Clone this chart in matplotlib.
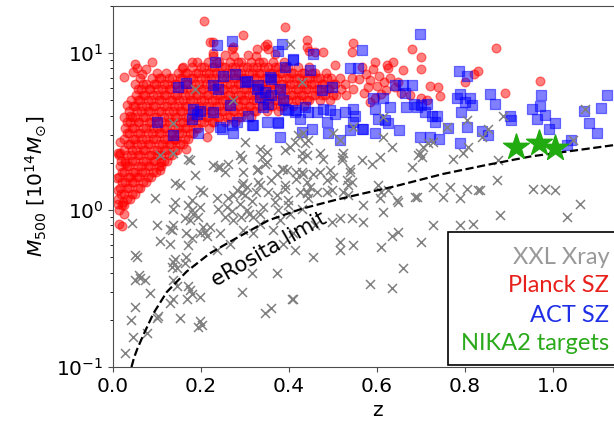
import numpy as np
import matplotlib.pyplot as plt
from matplotlib.patches import Rectangle

# Planck SZ clusters (redshift, mass in 1e14 Msun)
planck_z = [
    0.014, 0.012, 0.015, 0.013, 0.016, 0.014,
    0.026, 0.024, 0.027, 0.025, 0.028, 0.026, 0.024, 0.027, 0.025,
    0.038, 0.036, 0.039, 0.037, 0.040, 0.038, 0.036, 0.039, 0.037, 0.040,
    0.050, 0.048, 0.051, 0.049, 0.052, 0.050, 0.048, 0.051, 0.049, 0.052, 0.050,
    0.062, 0.060, 0.063, 0.061, 0.064, 0.062, 0.060, 0.063, 0.061, 0.064, 0.062,
    0.074, 0.072, 0.075, 0.073, 0.076, 0.074, 0.072, 0.075, 0.073, 0.076,
    0.086, 0.084, 0.087, 0.085, 0.088, 0.086, 0.084, 0.087, 0.085, 0.088,
    0.098, 0.096, 0.099, 0.097, 0.100, 0.098, 0.096, 0.099, 0.097, 0.100,
    0.110, 0.108, 0.111, 0.109, 0.112, 0.110, 0.108, 0.111, 0.109,
    0.122, 0.120, 0.123, 0.121, 0.124, 0.122, 0.120, 0.123, 0.121,
    0.134, 0.132, 0.135, 0.133, 0.136, 0.134, 0.132, 0.135,
    0.146, 0.144, 0.147, 0.145, 0.148, 0.146, 0.144, 0.147,
    0.158, 0.156, 0.159, 0.157, 0.160, 0.158, 0.156, 0.159,
    0.170, 0.168, 0.171, 0.169, 0.172, 0.170, 0.168,
    0.182, 0.180, 0.183, 0.181, 0.184, 0.182, 0.180,
    0.194, 0.192, 0.195, 0.193, 0.196, 0.194, 0.192,
    0.206, 0.204, 0.207, 0.205, 0.208, 0.206,
    0.218, 0.216, 0.219, 0.217, 0.220, 0.218, 0.216,
    0.230, 0.228, 0.231, 0.229, 0.232, 0.230, 0.228,
    0.242, 0.240, 0.243, 0.241, 0.244, 0.242,
    0.254, 0.252, 0.255, 0.253, 0.256, 0.254,
    0.266, 0.264, 0.267, 0.265, 0.268, 0.266,
    0.278, 0.276, 0.279, 0.277, 0.280, 0.278, 0.276,
    0.290, 0.288, 0.291, 0.289, 0.292, 0.290,
    0.302, 0.300, 0.303, 0.301, 0.304,
    0.314, 0.312, 0.315, 0.313, 0.316, 0.314,
    0.326, 0.324, 0.327, 0.325, 0.328, 0.326,
    0.338, 0.336, 0.339, 0.337, 0.340,
    0.350, 0.348, 0.351, 0.349, 0.352,
    0.362, 0.360, 0.363, 0.361, 0.364,
    0.374, 0.372, 0.375, 0.373, 0.376,
    0.386, 0.384, 0.387, 0.385, 0.388,
    0.398, 0.396, 0.399, 0.397,
    0.410, 0.408, 0.411, 0.409,
    0.422, 0.420, 0.423, 0.421,
    0.434, 0.432, 0.435, 0.433,
    0.446, 0.444, 0.447, 0.445,
    0.458, 0.456, 0.459,
    0.470, 0.468, 0.471,
    0.482, 0.480, 0.483,
    0.494, 0.492, 0.495,
    0.506, 0.504,
    0.518, 0.516,
    0.530, 0.528,
    0.545, 0.543,
    # inner part of the cloud
    0.020, 0.019, 0.021, 0.020, 0.019,
    0.032, 0.031, 0.033, 0.032, 0.031, 0.033, 0.032, 0.031,
    0.044, 0.043, 0.045, 0.044, 0.043, 0.045, 0.044, 0.043, 0.045,
    0.056, 0.055, 0.057, 0.056, 0.055, 0.057, 0.056, 0.055, 0.057, 0.056,
    0.068, 0.067, 0.069, 0.068, 0.067, 0.069, 0.068, 0.067, 0.069, 0.068,
    0.080, 0.079, 0.081, 0.080, 0.079, 0.081, 0.080, 0.079, 0.081,
    0.092, 0.091, 0.093, 0.092, 0.091, 0.093, 0.092, 0.091, 0.093,
    0.104, 0.103, 0.105, 0.104, 0.103, 0.105, 0.104, 0.103, 0.105,
    0.116, 0.115, 0.117, 0.116, 0.115, 0.117, 0.116, 0.115,
    0.128, 0.127, 0.129, 0.128, 0.127, 0.129, 0.128, 0.127,
    0.140, 0.139, 0.141, 0.140, 0.139, 0.141, 0.140,
    0.152, 0.151, 0.153, 0.152, 0.151, 0.153, 0.152,
    0.164, 0.163, 0.165, 0.164, 0.163, 0.165, 0.164,
    0.176, 0.175, 0.177, 0.176, 0.175, 0.177,
    0.188, 0.187, 0.189, 0.188, 0.187, 0.189,
    0.200, 0.199, 0.201, 0.200, 0.199, 0.201,
    0.212, 0.211, 0.213, 0.212, 0.211,
    0.224, 0.223, 0.225, 0.224, 0.223, 0.225,
    0.236, 0.235, 0.237, 0.236, 0.235, 0.237,
    0.248, 0.247, 0.249, 0.248, 0.247,
    0.260, 0.259, 0.261, 0.260, 0.259,
    0.272, 0.271, 0.273, 0.272, 0.271,
    0.284, 0.283, 0.285, 0.284, 0.283, 0.285,
    0.296, 0.295, 0.297, 0.296, 0.295,
    0.308, 0.307, 0.309, 0.308,
    0.320, 0.319, 0.321, 0.320, 0.319,
    0.332, 0.331, 0.333, 0.332, 0.331,
    0.344, 0.343, 0.345, 0.344,
    0.356, 0.355, 0.357, 0.356,
    0.368, 0.367, 0.369, 0.368,
    0.380, 0.379, 0.381, 0.380,
    0.392, 0.391, 0.393, 0.392,
    0.404, 0.403, 0.405,
    0.416, 0.415, 0.417,
    0.428, 0.427, 0.429,
    0.440, 0.439, 0.441,
    0.452, 0.451, 0.453,
    0.464, 0.463,
    0.476, 0.475,
    0.488, 0.487,
    0.500, 0.499,
    # scattered clusters around the main cloud
    0.206, 0.390, 0.296, 0.870, 0.680, 0.700, 0.700, 0.830, 0.820, 0.800,
    0.890, 0.970, 0.720, 0.738, 0.743, 0.713, 0.700, 0.660, 0.636, 0.622,
    0.595, 0.584, 0.675, 0.345, 0.352, 0.440, 0.440, 0.446, 0.460, 0.477,
    0.546, 0.543, 0.307, 0.505, 0.024, 0.050, 0.088, 0.054, 0.012, 0.023,
    0.016, 0.027, 0.013, 0.020, 0.025, 0.010, 0.011, 0.156, 0.180, 0.220,
    0.255, 0.228, 0.270, 0.016, 0.011, 0.107, 0.110, 0.167, 0.141, 0.213,
    0.039, 0.031, 0.350, 0.368, 0.273, 0.227, 0.565, 0.575, 0.585, 0.590,
    0.600, 0.605, 0.615, 0.620, 0.630, 0.640, 0.570, 0.580, 0.595, 0.610,
    0.625, 0.648, 0.655, 0.560, 0.327, 0.045, 0.065, 0.075,
]
planck_m = [
    1.00, 1.17, 1.38, 1.62, 1.91, 2.24,
    1.08, 1.27, 1.50, 1.76, 2.07, 2.43, 2.85, 3.35, 3.94,
    1.17, 1.38, 1.62, 1.91, 2.24, 2.63, 3.09, 3.63, 4.27, 5.01,
    1.27, 1.50, 1.76, 2.07, 2.43, 2.85, 3.35, 3.94, 4.62, 5.43, 6.38,
    1.38, 1.62, 1.91, 2.24, 2.63, 3.09, 3.63, 4.27, 5.01, 5.89, 6.92,
    1.50, 1.76, 2.07, 2.43, 2.85, 3.35, 3.94, 4.62, 5.43, 6.38,
    1.62, 1.91, 2.24, 2.63, 3.09, 3.63, 4.27, 5.01, 5.89, 6.92,
    1.76, 2.07, 2.43, 2.85, 3.35, 3.94, 4.62, 5.43, 6.38, 7.50,
    1.91, 2.24, 2.63, 3.09, 3.63, 4.27, 5.01, 5.89, 6.92,
    2.07, 2.43, 2.85, 3.35, 3.94, 4.62, 5.43, 6.38, 7.50,
    2.24, 2.63, 3.09, 3.63, 4.27, 5.01, 5.89, 6.92,
    2.43, 2.85, 3.35, 3.94, 4.62, 5.43, 6.38, 7.50,
    2.63, 3.09, 3.63, 4.27, 5.01, 5.89, 6.92, 8.13,
    2.85, 3.35, 3.94, 4.62, 5.43, 6.38, 7.50,
    3.09, 3.63, 4.27, 5.01, 5.89, 6.92, 8.13,
    3.35, 3.94, 4.62, 5.43, 6.38, 7.50, 8.81,
    3.63, 4.27, 5.01, 5.89, 6.92, 8.13,
    3.35, 3.94, 4.62, 5.43, 6.38, 7.50, 8.81,
    3.63, 4.27, 5.01, 5.89, 6.92, 8.13, 9.55,
    3.94, 4.62, 5.43, 6.38, 7.50, 8.81,
    3.63, 4.27, 5.01, 5.89, 6.92, 8.13,
    3.94, 4.62, 5.43, 6.38, 7.50, 8.81,
    3.63, 4.27, 5.01, 5.89, 6.92, 8.13, 9.55,
    3.94, 4.62, 5.43, 6.38, 7.50, 8.81,
    4.27, 5.01, 5.89, 6.92, 8.13,
    3.94, 4.62, 5.43, 6.38, 7.50, 8.81,
    4.27, 5.01, 5.89, 6.92, 8.13, 9.55,
    4.62, 5.43, 6.38, 7.50, 8.81,
    4.27, 5.01, 5.89, 6.92, 8.13,
    4.62, 5.43, 6.38, 7.50, 8.81,
    4.27, 5.01, 5.89, 6.92, 8.13,
    4.62, 5.43, 6.38, 7.50, 8.81,
    5.01, 5.89, 6.92, 8.13,
    4.62, 5.43, 6.38, 7.50,
    5.01, 5.89, 6.92, 8.13,
    4.62, 5.43, 6.38, 7.50,
    5.01, 5.89, 6.92, 8.13,
    5.43, 6.38, 7.50,
    5.01, 5.89, 6.92,
    5.43, 6.38, 7.50,
    5.01, 5.89, 6.92,
    5.43, 6.38,
    5.89, 6.92,
    5.43, 6.38,
    5.89, 6.92,
    # inner part of the cloud
    1.08, 1.27, 1.50, 1.76, 2.07,
    1.17, 1.38, 1.62, 1.91, 2.24, 2.63, 3.09, 3.63,
    1.27, 1.50, 1.76, 2.07, 2.43, 2.85, 3.35, 3.94, 4.62,
    1.38, 1.62, 1.91, 2.24, 2.63, 3.09, 3.63, 4.27, 5.01, 5.89,
    1.50, 1.76, 2.07, 2.43, 2.85, 3.35, 3.94, 4.62, 5.43, 6.38,
    1.62, 1.91, 2.24, 2.63, 3.09, 3.63, 4.27, 5.01, 5.89,
    1.76, 2.07, 2.43, 2.85, 3.35, 3.94, 4.62, 5.43, 6.38,
    1.91, 2.24, 2.63, 3.09, 3.63, 4.27, 5.01, 5.89, 6.92,
    2.07, 2.43, 2.85, 3.35, 3.94, 4.62, 5.43, 6.38,
    2.24, 2.63, 3.09, 3.63, 4.27, 5.01, 5.89, 6.92,
    2.43, 2.85, 3.35, 3.94, 4.62, 5.43, 6.38,
    2.63, 3.09, 3.63, 4.27, 5.01, 5.89, 6.92,
    2.85, 3.35, 3.94, 4.62, 5.43, 6.38, 7.50,
    3.09, 3.63, 4.27, 5.01, 5.89, 6.92,
    3.35, 3.94, 4.62, 5.43, 6.38, 7.50,
    3.63, 4.27, 5.01, 5.89, 6.92, 8.13,
    3.94, 4.62, 5.43, 6.38, 7.50,
    3.63, 4.27, 5.01, 5.89, 6.92, 8.13,
    3.94, 4.62, 5.43, 6.38, 7.50, 8.81,
    4.27, 5.01, 5.89, 6.92, 8.13,
    3.94, 4.62, 5.43, 6.38, 7.50,
    4.27, 5.01, 5.89, 6.92, 8.13,
    3.94, 4.62, 5.43, 6.38, 7.50, 8.81,
    4.27, 5.01, 5.89, 6.92, 8.13,
    4.62, 5.43, 6.38, 7.50,
    4.27, 5.01, 5.89, 6.92, 8.13,
    4.62, 5.43, 6.38, 7.50, 8.81,
    5.01, 5.89, 6.92, 8.13,
    4.62, 5.43, 6.38, 7.50,
    5.01, 5.89, 6.92, 8.13,
    4.62, 5.43, 6.38, 7.50,
    5.01, 5.89, 6.92, 8.13,
    5.43, 6.38, 7.50,
    5.01, 5.89, 6.92,
    5.43, 6.38, 7.50,
    5.01, 5.89, 6.92,
    5.43, 6.38, 7.50,
    5.89, 6.92,
    5.43, 6.38,
    5.89, 6.92,
    5.43, 6.38,
    # scattered clusters around the main cloud
    16.0, 14.6, 13.0, 10.8, 10.7, 9.4, 7.9, 7.7, 7.35, 6.6,
    5.6, 6.7, 6.2, 6.1, 5.3, 5.0, 5.2, 7.8, 8.8, 8.4,
    8.8, 4.9, 5.4, 11.2, 10.7, 12.2, 10.9, 10.4, 10.2, 10.2,
    11.6, 10.2, 9.7, 8.4, 7.1, 8.6, 8.8, 8.0, 1.34, 1.12,
    2.3, 2.0, 0.82, 0.79, 0.95, 1.6, 1.1, 8.0, 8.8, 11.8,
    9.7, 10.0, 10.7, 2.7, 2.3, 1.8, 2.03, 2.47, 2.8, 2.93,
    4.0, 4.66, 11.5, 9.9, 11.0, 11.8, 8.2, 7.4, 6.8, 7.9,
    6.2, 7.2, 6.6, 5.8, 7.0, 6.1, 5.6, 6.1, 5.2, 5.5,
    8.1, 6.6, 5.6, 6.9, 10.6, 7.6, 7.4, 7.9,
]

# ACT SZ clusters
act_z = [
    0.236, 0.270, 0.232, 0.251, 0.277, 0.166, 0.148, 0.228, 0.239, 0.101,
    0.137, 0.181, 0.190, 0.179, 0.198, 0.194, 0.228, 0.266, 0.247, 0.270,
    0.273, 0.376, 0.383, 0.410, 0.304, 0.327, 0.334, 0.342, 0.353, 0.319,
    0.350, 0.376, 0.380, 0.360, 0.380, 0.387, 0.390, 0.417, 0.425, 0.429,
    0.436, 0.243, 0.281, 0.408, 0.455, 0.565, 0.539, 0.557, 0.390, 0.357,
    0.448, 0.474, 0.497, 0.300, 0.330, 0.345, 0.360, 0.307, 0.398, 0.414,
    0.444, 0.463, 0.478, 0.493, 0.505, 0.527, 0.546, 0.550, 0.546, 0.565,
    0.315, 0.376, 0.452, 0.486, 0.489, 0.516, 0.539, 0.698, 0.786, 0.805,
    0.857, 0.789, 0.781, 0.811, 0.815, 0.792, 0.800, 0.641, 0.660, 0.679,
    0.664, 0.592, 0.614, 0.595, 0.630, 0.667, 0.690, 0.700, 0.713, 0.683,
    0.709, 0.724, 0.732, 0.736, 0.603, 0.618, 0.626, 0.569, 0.595, 0.651,
    0.698, 0.720, 0.742, 0.762, 0.804, 0.789, 0.838, 0.868, 0.902, 0.905,
    0.973, 0.952, 0.970, 0.982, 0.963, 1.005, 0.992, 1.041, 1.031, 1.122,
    1.110, 1.071, 1.082, 1.100, 0.852,
]
act_m = [
    11.3, 11.9, 8.8, 7.2, 7.4, 6.5, 6.1, 6.25, 5.95, 3.65,
    3.0, 4.4, 4.1, 3.8, 4.3, 3.1, 4.2, 4.7, 3.3, 3.5,
    3.08, 10.4, 11.5, 9.0, 6.7, 5.95, 5.27, 4.55, 4.78, 3.48,
    3.65, 3.65, 2.93, 6.9, 5.95, 5.0, 4.44, 4.33, 3.83, 3.15,
    4.55, 3.39, 3.65, 9.25, 9.9, 10.5, 8.0, 8.0, 8.2, 7.1,
    7.8, 5.8, 6.1, 6.6, 6.25, 5.67, 5.4, 4.0, 4.33, 4.2,
    4.2, 4.2, 4.44, 4.33, 4.1, 4.2, 4.44, 4.0, 3.65, 3.3,
    3.48, 3.57, 3.3, 3.65, 3.08, 2.79, 3.23, 13.2, 7.7, 7.2,
    5.5, 5.5, 5.15, 5.15, 4.66, 4.2, 4.9, 6.25, 6.25, 6.25,
    5.6, 5.15, 5.15, 4.44, 4.55, 4.55, 4.55, 4.66, 4.78, 4.78,
    4.2, 4.0, 3.65, 4.0, 3.83, 3.74, 3.57, 3.3, 3.08, 3.23,
    2.93, 2.93, 2.83, 3.34, 3.39, 2.66, 3.18, 4.78, 4.0, 3.74,
    5.45, 4.44, 4.6, 4.06, 3.83, 3.57, 3.31, 2.79, 2.59, 5.45,
    4.48, 4.27, 3.57, 3.12, 3.0,
]

# XXL X-ray clusters
xxl_z = [
    0.044, 0.099, 0.137, 0.133, 0.107, 0.130, 0.164, 0.182, 0.198, 0.167,
    0.179, 0.205, 0.209, 0.198, 0.213, 0.050, 0.058, 0.061, 0.050, 0.073,
    0.084, 0.137, 0.133, 0.141, 0.137, 0.145, 0.137, 0.130, 0.103, 0.152,
    0.171, 0.175, 0.179, 0.168, 0.198, 0.198, 0.194, 0.202, 0.050, 0.042,
    0.046, 0.027, 0.095, 0.141, 0.137, 0.171, 0.179, 0.175, 0.205, 0.194,
    0.236, 0.239, 0.220, 0.262, 0.273, 0.130, 0.145, 0.167, 0.164, 0.171,
    0.099, 0.077, 0.054, 0.353, 0.390, 0.440, 0.486, 0.497, 0.535, 0.543,
    0.516, 0.497, 0.516, 0.516, 0.546, 0.459, 0.414, 0.455, 0.372, 0.293,
    0.360, 0.345, 0.406, 0.315, 0.368, 0.398, 0.376, 0.429, 0.444, 0.289,
    0.304, 0.319, 0.273, 0.334, 0.296, 0.319, 0.364, 0.380, 0.402, 0.410,
    0.387, 0.243, 0.266, 0.236, 0.410, 0.282, 0.300, 0.315, 0.325, 0.310,
    0.340, 0.290, 0.335, 0.260, 0.255, 0.270, 0.569, 0.569, 0.610, 0.626,
    0.607, 0.614, 0.648, 0.686, 0.728, 0.750, 0.789, 0.804, 0.830, 0.728,
    0.789, 0.819, 0.648, 0.633, 0.610, 0.700, 0.660, 0.584, 0.633, 0.955,
    0.982, 1.005, 0.880, 1.031, 1.061, 0.887, 1.073, 0.872, 1.046, 0.758,
    0.804, 0.853, 0.807, 0.796, 0.773, 0.838, 0.834, 0.645, 0.690, 0.679,
    0.705, 0.698, 0.702, 0.728, 0.614, 0.588, 0.607, 0.565, 0.539, 0.523,
    0.520, 0.493, 0.486, 0.500, 0.531, 0.535, 0.523, 0.470, 0.478, 0.436,
    0.429, 0.432, 0.455, 0.448, 0.463, 0.440, 0.614, 0.500, 0.516, 0.546,
    0.766, 0.603, 0.633, 0.717, 0.694, 0.876, 0.107, 0.137, 0.137, 0.186,
    0.273, 0.429, 0.175, 0.141, 0.152, 0.198, 0.179, 0.239, 0.262, 0.289,
    0.296, 0.304, 0.293, 0.300, 0.327, 0.338, 0.345, 0.350, 0.330, 0.334,
    0.372, 0.372, 0.387, 0.395, 0.390, 0.402, 0.398, 0.417, 0.425, 0.440,
    0.444, 0.432, 0.402, 0.421, 0.414, 0.293, 0.296, 0.293, 0.334, 0.330,
    0.350, 0.360, 0.383, 0.390, 0.429, 0.429, 0.440, 0.470, 0.520, 0.539,
    0.543, 0.417, 0.228, 0.243, 0.255, 0.171, 0.186,
]
xxl_m = [
    0.83, 0.80, 0.80, 0.75, 0.64, 0.61, 0.885, 0.95, 1.05, 0.71,
    0.66, 0.78, 0.73, 0.71, 0.68, 0.52, 0.385, 0.37, 0.36, 0.36,
    0.295, 0.47, 0.435, 0.49, 0.36, 0.33, 0.27, 0.255, 0.21, 0.205,
    0.33, 0.31, 0.29, 0.27, 0.28, 0.195, 0.18, 0.185, 0.24, 0.20,
    0.156, 0.122, 1.19, 1.13, 1.02, 1.08, 1.00, 0.86, 1.31, 0.905,
    1.19, 1.02, 0.78, 1.19, 1.25, 0.76, 0.425, 0.505, 0.46, 0.60,
    0.205, 0.164, 0.505, 1.31, 1.37, 1.31, 1.31, 1.34, 1.25, 0.885,
    0.885, 0.84, 0.63, 0.555, 0.60, 0.80, 0.555, 0.505, 0.395, 0.30,
    0.237, 0.22, 0.27, 0.395, 1.13, 1.08, 1.00, 1.02, 1.19, 1.10,
    1.00, 0.905, 0.86, 0.82, 0.75, 0.71, 0.75, 0.86, 0.95, 0.71,
    0.61, 0.71, 0.61, 0.555, 0.27, 1.35, 1.25, 1.15, 1.30, 0.95,
    1.05, 0.90, 0.95, 1.05, 0.90, 0.98, 1.08, 0.84, 1.31, 1.34,
    1.19, 0.975, 1.13, 1.22, 1.41, 1.22, 1.19, 1.37, 1.34, 0.80,
    0.80, 0.82, 0.73, 0.68, 0.58, 0.63, 0.425, 0.34, 0.317, 1.37,
    1.37, 1.34, 0.93, 0.905, 1.10, 4.0, 4.44, 1.55, 2.79, 3.39,
    3.74, 3.31, 2.53, 2.30, 2.13, 2.93, 1.34, 1.16, 1.22, 1.89,
    2.53, 2.30, 2.19, 2.72, 2.93, 1.98, 2.19, 2.08, 1.75, 2.30,
    2.08, 1.80, 1.55, 1.63, 1.55, 1.44, 1.31, 2.30, 2.13, 2.66,
    2.30, 1.71, 1.71, 1.41, 1.31, 1.28, 3.92, 3.08, 2.79, 3.39,
    1.41, 1.44, 2.53, 2.66, 2.24, 2.08, 2.24, 2.30, 3.57, 5.95,
    5.00, 6.60, 2.08, 1.48, 1.44, 1.34, 1.16, 1.89, 1.98, 2.24,
    1.48, 1.41, 1.28, 2.72, 1.80, 2.19, 1.98, 2.35, 1.51, 1.44,
    1.71, 1.25, 1.84, 1.80, 2.41, 2.53, 1.16, 1.75, 1.31, 2.24,
    2.79, 3.08, 11.5, 3.00, 2.72, 2.13, 1.75, 1.44, 2.47, 1.84,
    2.03, 1.55, 1.84, 1.44, 2.13, 1.75, 1.51, 1.75, 2.19, 1.84,
    1.51, 1.59, 1.94, 1.89, 1.75, 2.13, 1.67,
]

# NIKA2 targets
nika_z = [0.917, 0.968, 1.005]
nika_m = [2.53, 2.67, 2.48]

# eRosita detection limit
erosita_z = [0.042, 0.048, 0.055, 0.069, 0.092, 0.122, 0.167, 0.220, 0.275,
             0.353, 0.429, 0.505, 0.565, 0.637, 0.750, 0.845, 0.950, 1.050,
             1.140, 1.200]
erosita_m = [0.100, 0.115, 0.130, 0.160, 0.220, 0.300, 0.405, 0.530, 0.650,
             0.860, 1.020, 1.160, 1.270, 1.410, 1.700, 1.930, 2.200, 2.400,
             2.600, 2.720]

legend_labels = ["XXL Xray", "Planck SZ", "ACT SZ", "NIKA2 targets"]
legend_colors = ["#999999", "#e8201c", "#1f2fe6", "#2aaa1a"]

fig = plt.figure(figsize=(6.14, 4.22), dpi=100)
ax = fig.add_axes([113 / 614, 55 / 422, 528 / 614, 361 / 422])

ax.scatter(planck_z, planck_m, s=40, marker='o', color='red', alpha=0.5,
           linewidths=0.9, zorder=2)
ax.scatter(act_z, act_m, s=42, marker='s', color='blue', alpha=0.5,
           linewidths=0.9, zorder=3)
ax.scatter(xxl_z, xxl_m, s=42, marker='x', color='gray', linewidths=1.1,
           zorder=4)
ax.plot(erosita_z, erosita_m, 'k--', lw=1.6, zorder=5)
ax.scatter(nika_z, nika_m, s=380, marker='*', color='#22aa11', zorder=6)

ax.text(0.355, 0.565, "eRosita limit", fontsize=15, rotation=30,
        ha='center', va='center', zorder=5)

ax.set_yscale('log')
ax.set_xlim(0, 1.2)
ax.set_ylim(0.1, 20)
ax.set_xticks([0.0, 0.2, 0.4, 0.6, 0.8, 1.0])
ax.set_xlabel("z", fontsize=14.5)
ax.set_ylabel(r"$M_{500}$ [$10^{14} M_{\odot}$]", fontsize=14.5, labelpad=6)
ax.tick_params(labelsize=14.5, colors='0.3', labelcolor='black')
for sp in ax.spines.values():
    sp.set_color('0.3')

# Framed key in the lower right corner
ax.add_patch(Rectangle((0.6345, 0.0055), 0.5, 0.3685, transform=ax.transAxes,
                       facecolor='white', edgecolor='black', lw=1.2,
                       zorder=7, clip_on=False))
for i, (lab, col) in enumerate(zip(legend_labels, legend_colors)):
    ax.text(1.128, (367 - 257 - 29 * i) / 361, lab, color=col,
            family='Lato', fontsize=17, ha='right', va='center',
            transform=ax.get_xaxis_transform(), zorder=8)

fig.savefig("out.png", dpi=100)
